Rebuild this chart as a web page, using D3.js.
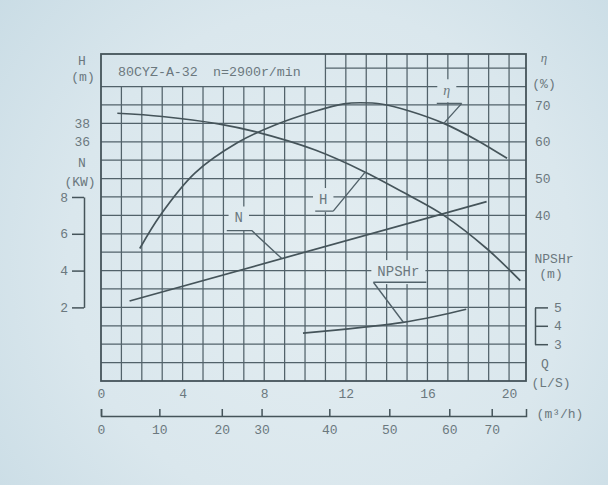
<!DOCTYPE html>
<html>
<head>
<meta charset="utf-8">
<script src="https://cdn.jsdelivr.net/npm/d3@7"></script>
<style>
body{margin:0;background:#d8e6ec;}
svg{display:block;}
text{font-family:"Liberation Mono","DejaVu Sans Mono",monospace;fill:#6b787e;font-size:13px;}
</style>
</head>
<body>
<svg id="chart" width="608" height="485"></svg>
<script>
/* pump curve 80CYZ-A-32, flow Q in L/s */
const flowH = [0.8, 3.0, 5.75, 7.55, 10.5, 12.95, 15.15, 16.8, 18.9, 20.55];
const head  = [39.1, 38.75, 37.95, 37.1, 35.1, 32.7, 30.1, 28.0, 24.4, 20.9];

const flowEta = [1.9, 2.9, 4.6, 6.7, 8.5, 10.5, 11.9, 12.7, 13.8, 15.15, 16.8, 18.4, 19.9];
const efficiency = [31, 40, 51.5, 59.8, 64.5, 68.3, 70.3, 70.6, 70.2, 68.3, 65.0, 60.5, 55.5];

const flowN = [1.4, 18.9];
const power = [2.35, 7.75];

const flowNpsh = [9.9, 11.5, 13.0, 14.8, 16.4, 17.9];
const npshr = [3.6, 3.76, 3.94, 4.19, 4.52, 4.9];

/* tick labels */
const qTicks = [0, 4, 8, 12, 16, 20];
const m3hTicks = [0, 10, 20, 30, 40, 50, 60, 70, 75];
const m3hAtQ = [0, 2.86, 5.92, 7.87, 11.19, 14.13, 17.07, 19.15, 20.83]; // where the sheet prints them (L/s)
const hTicks = [36, 38];
const nTicks = [2, 4, 6, 8];
const etaTicks = [40, 50, 60, 70];
const npshTicks = [3, 4, 5];

const svg = d3.select("#chart");

/* background with a soft photo-like falloff */
const defs = svg.append("defs");
const grad = defs.append("radialGradient")
    .attr("id", "bg")
    .attr("gradientUnits", "userSpaceOnUse")
    .attr("cx", 320).attr("cy", 260).attr("r", 420);
grad.append("stop").attr("offset", "0").attr("stop-color", "#e3edf1");
grad.append("stop").attr("offset", "0.6").attr("stop-color", "#dae7ed");
grad.append("stop").attr("offset", "1").attr("stop-color", "#c9dce5");
svg.append("rect").attr("width", 608).attr("height", 485).attr("fill", "url(#bg)");

/* scales: x in L/s, one grid row per unit of "rows" */
const x = d3.scaleLinear().domain([0, 20.83]).range([101, 526]);
const rows = d3.scaleLinear().domain([0, 17.77]).range([381, 54]);
const yH = rows.copy().domain([10, 10 + 2 * 17.77]);
const yN = rows.copy().domain([-2, -2 + 17.77]);
const yEta = rows.copy().domain([-5, -5 + 5 * 17.77]);
const yNpsh = rows.copy().domain([1, 1 + 17.77]);
const xM3h = d3.scaleLinear().domain(m3hTicks).range(m3hAtQ.map(x));

const gridColor = "#52626a";
const lineColor = "#45545a";

/* grid, title box occupies Q 0..11 above row 16 */
const grid = svg.append("g").attr("stroke", gridColor).attr("stroke-width", 1.25);
grid.selectAll(".v")
    .data(d3.range(1, 21))
    .enter().append("line")
    .attr("x1", d => x(d)).attr("x2", d => x(d))
    .attr("y1", rows(0))
    .attr("y2", d => d <= 10 ? rows(16) : rows(17.77));
grid.selectAll(".h")
    .data(d3.range(1, 18))
    .enter().append("line")
    .attr("x1", d => d > 16 ? x(11) : x(0))
    .attr("x2", x(20.83))
    .attr("y1", d => rows(d)).attr("y2", d => rows(d));

svg.append("rect")
    .attr("x", x(0)).attr("y", rows(17.77))
    .attr("width", x(20.83) - x(0)).attr("height", rows(0) - rows(17.77))
    .attr("fill", "none").attr("stroke", lineColor).attr("stroke-width", 1.8);

svg.append("text").attr("x", 118).attr("y", 76).style("font-size", "13.3px").text("80CYZ-A-32");
svg.append("text").attr("x", 213).attr("y", 76).style("font-size", "13.3px").text("n=2900r/min");

/* curves */
function drawCurve(qs, vs, y, curve){
    const line = d3.line()
        .x(d => x(d[0]))
        .y(d => y(d[1]))
        .curve(curve);
    svg.append("path")
        .datum(d3.zip(qs, vs))
        .attr("d", line)
        .attr("fill", "none")
        .attr("stroke", lineColor)
        .attr("stroke-width", 1.7);
}
drawCurve(flowH, head, yH, d3.curveCatmullRom.alpha(0.5));
drawCurve(flowEta, efficiency, yEta, d3.curveCatmullRom.alpha(0.5));
drawCurve(flowN, power, yN, d3.curveLinear);
drawCurve(flowNpsh, npshr, yNpsh, d3.curveCatmullRom.alpha(0.5));

/* curve labels: text on a bar, diagonal down to the curve */
function leader(txt, qs, vs, y, q, o){
    const ax = x(q), ay = y(d3.scaleLinear().domain(qs).range(vs)(q));
    const g = svg.append("g");
    const t = g.append("text")
        .attr("x", ax + o.lx).attr("y", ay + o.ly)
        .attr("dy", "0.35em")
        .attr("text-anchor", "middle")
        .style("font-size", "14px")
        .text(txt);
    if(o.italic){
        t.style("font-family", "'Liberation Serif',serif").style("font-style", "italic");
    }
    const b = t.node().getBBox();
    g.insert("rect", "text")
        .attr("x", b.x - 6).attr("y", b.y - 4)
        .attr("width", b.width + 12).attr("height", b.height + 8)
        .attr("fill", "url(#bg)");
    const by = ay + o.by;
    const fx = ax + (o.fromEnd ? o.bx1 : o.bx0);
    g.append("path")
        .attr("d", "M" + (ax + o.bx0) + "," + by + "H" + (ax + o.bx1) + "M" + fx + "," + by + "L" + ax + "," + ay)
        .attr("fill", "none")
        .attr("stroke", gridColor)
        .attr("stroke-width", 1.4);
}
leader("H", flowH, head, yH, 12.95, {bx0: -50, bx1: -32, by: 39, fromEnd: true, lx: -42, ly: 27});
leader("N", flowN, power, yN, 8.86, {bx0: -55, bx1: -30, by: -28, fromEnd: true, lx: -43, ly: -41});
leader("η", flowEta, efficiency, yEta, 16.8, {bx0: -7, bx1: 18, by: -20, fromEnd: true, lx: 3, ly: -33, italic: true});
leader("NPSHr", flowNpsh, npshr, yNpsh, 14.82, {bx0: -30, bx1: 23, by: -40, fromEnd: false, lx: -5, ly: -51});

/* axes */
function styleAxis(g){
    g.attr("color", lineColor).attr("font-family", null).attr("font-size", null);
    g.selectAll("line").attr("stroke-width", 1.5);
    g.selectAll("path").attr("stroke-width", 1.5);
}
const fmt = d3.format("d");

svg.append("g")
    .attr("transform", "translate(" + x(0) + ",0)")
    .call(d3.axisLeft(yH).tickValues(hTicks).tickFormat(fmt).tickSize(0).tickPadding(11))
    .call(g => g.select(".domain").remove())
    .call(styleAxis);

const nBracket = yN.copy().domain([2, 8]).range([yN(2), yN(8)]);
svg.append("g")
    .attr("transform", "translate(84,0)")
    .call(d3.axisLeft(nBracket).tickValues(nTicks).tickFormat(fmt).tickSize(12).tickSizeOuter(0).tickPadding(4))
    .call(styleAxis);

svg.append("g")
    .attr("transform", "translate(" + x(20.83) + ",0)")
    .call(d3.axisRight(yEta).tickValues(etaTicks).tickFormat(fmt).tickSize(0).tickPadding(9))
    .call(g => g.select(".domain").remove())
    .call(styleAxis);

const npshBracket = yNpsh.copy().domain([3, 5]).range([yNpsh(3), yNpsh(5)]);
svg.append("g")
    .attr("transform", "translate(535,0)")
    .call(d3.axisRight(npshBracket).tickValues(npshTicks).tickFormat(fmt).tickSize(13).tickSizeOuter(0).tickPadding(6))
    .call(styleAxis);

svg.append("g")
    .attr("transform", "translate(0," + rows(0) + ")")
    .call(d3.axisBottom(x).tickValues(qTicks).tickFormat(fmt).tickSize(0).tickPadding(8))
    .call(g => g.select(".domain").remove())
    .call(styleAxis);

svg.append("g")
    .attr("transform", "translate(0,416)")
    .call(d3.axisBottom(xM3h).tickValues(m3hTicks.slice(0, -1)).tickFormat(fmt).tickSize(-7).tickSizeOuter(-7).tickPadding(9))
    .call(styleAxis);

/* unit captions */
const captions = [
    ["H", 82, 60], ["(m)", 83, 76], ["N", 82, 162], ["(KW)", 80, 181],
    ["(%)", 544, 83], ["NPSHr", 554, 258], ["(m)", 551, 273],
    ["Q", 545, 363], ["(L/S)", 551, 382], ["(m³/h)", 560, 413]
];
svg.append("g").selectAll("text")
    .data(captions)
    .enter().append("text")
    .attr("x", d => d[1]).attr("y", d => d[2])
    .attr("dy", "0.35em")
    .attr("text-anchor", "middle")
    .text(d => d[0]);
svg.append("text")
    .attr("x", 544).attr("y", 57).attr("dy", "0.35em")
    .attr("text-anchor", "middle")
    .style("font-family", "'Liberation Serif',serif").style("font-style", "italic")
    .text("η");
</script>
</body>
</html>
